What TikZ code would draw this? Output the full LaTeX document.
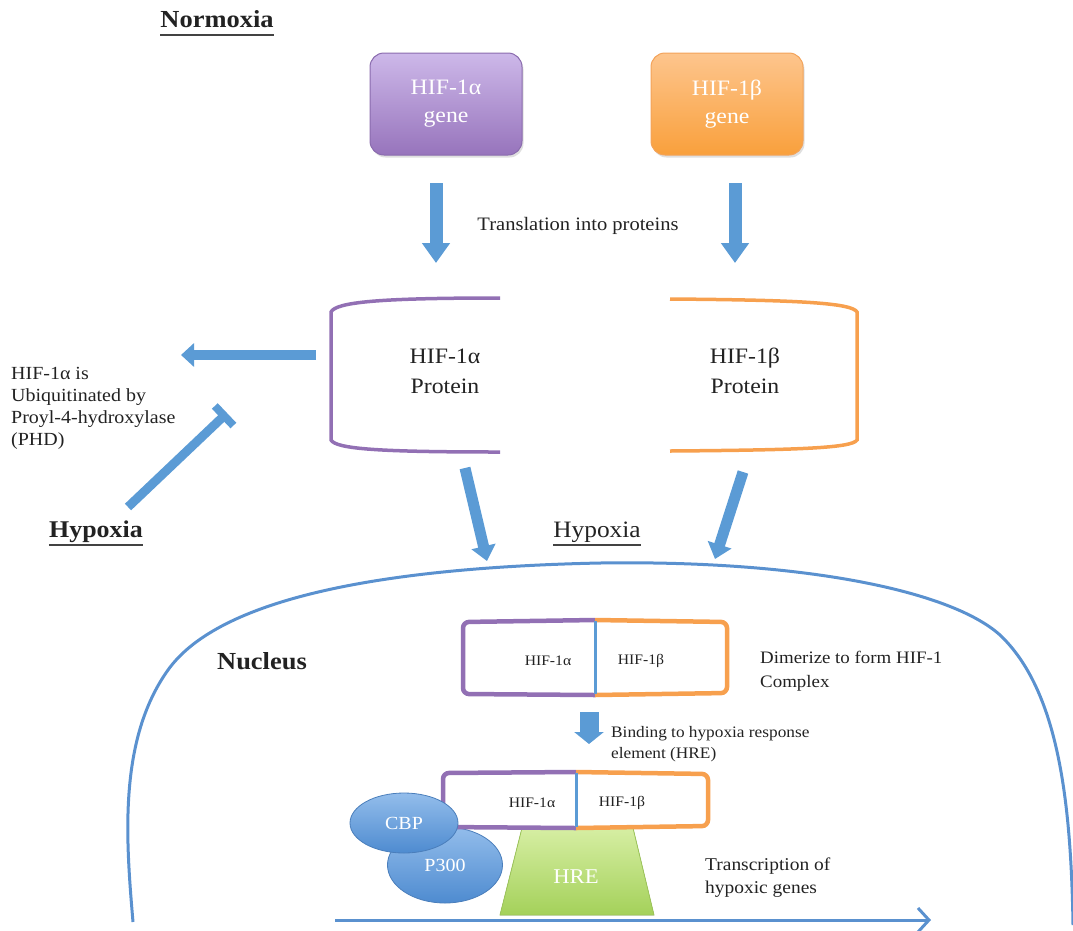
\documentclass[tikz,border=0pt]{standalone}
\usepackage{fontspec}
\setmainfont{Liberation Serif}[FakeStretch=1.08]
\usetikzlibrary{arrows.meta,shadows,calc,shapes.geometric}
\definecolor{txt}{HTML}{222222}
\definecolor{arrblue}{HTML}{5B9BD5}
\definecolor{nucblue}{HTML}{5A91CF}
\definecolor{purp}{HTML}{9270B4}
\definecolor{orng}{HTML}{F7A04E}
\definecolor{purpT}{HTML}{CDB8E9}
\definecolor{purpB}{HTML}{9774BC}
\definecolor{purpD}{HTML}{8A6BAE}
\definecolor{orT}{HTML}{FDC58D}
\definecolor{orB}{HTML}{F9A03C}
\definecolor{orD}{HTML}{F3A35A}
\definecolor{elT}{HTML}{93BDEB}
\definecolor{elB}{HTML}{4E8BD0}
\definecolor{elD}{HTML}{4A7EBB}
\definecolor{grT}{HTML}{D6EEA3}
\definecolor{grB}{HTML}{A4D15A}
\definecolor{grD}{HTML}{9DC65A}
\begin{document}
\begin{tikzpicture}[x=1pt,y=-1pt,
  every node/.style={inner sep=0pt, text=txt},
  bigtxt/.style={font=\fontsize{22}{30}\selectfont, align=center},
  tinytxt/.style={font=\fontsize{14.5}{18}\selectfont},
  genebox/.style={draw, line width=1pt, rounded corners=14pt, minimum width=152pt, minimum height=102pt,
    text=white, font=\fontsize{22}{28}\selectfont, align=center,
    drop shadow={shadow xshift=1.5pt, shadow yshift=-2.5pt, opacity=0.25}},
  ulline/.style={line width=2.4pt, draw=txt!85},
  vblock/.style={line width=13pt, draw=arrblue, -{Triangle[length=20pt,width=27pt]}},
  hblock/.style={line width=10pt, draw=arrblue, -{Triangle[length=13pt,width=23pt]}},
  dblock/.style={line width=11pt, draw=arrblue, -{Triangle[length=15pt,width=24pt]}},
  sblock/.style={line width=19pt, draw=arrblue, -{Triangle[length=12pt,width=29pt]}},
  inhib/.style={line width=9pt, draw=arrblue, -{Rectangle[length=8pt,width=27pt]}},
  purpline/.style={draw=purp, line width=3.5pt},
  orline/.style={draw=orng, line width=3.5pt},
  cplxP/.style={draw=purp, line width=4.5pt, rounded corners=6pt},
  cplxO/.style={draw=orng, line width=4.5pt, rounded corners=6pt},
  divider/.style={draw=arrblue, line width=3pt},
  blob/.style={ellipse, draw=elD, line width=0.8pt, top color=elT, bottom color=elB, text=white},
]
\useasboundingbox (0,0) rectangle (1073,930);

% ---------- titles ----------
\node[font=\bfseries\fontsize{24.5}{28}\selectfont, anchor=base] (norm) at (217,27) {Normoxia};
\draw[ulline] ([yshift=-8pt]norm.base west) -- ([yshift=-8pt]norm.base east);

% ---------- genes ----------
\node[genebox, top color=purpT, bottom color=purpB, draw=purpD] (gA) at (446,104) {HIF-1α\\gene};
\node[genebox, top color=orT, bottom color=orB, draw=orD] (gB) at (727,104) {HIF-1β\\gene};

\coordinate (a1) at (436,183); \coordinate (a2) at (436,263);
\coordinate (b1) at (735,183); \coordinate (b2) at (735,263);
\draw[vblock] (a1) -- (a2);
\draw[vblock] (b1) -- (b2);
\node[font=\fontsize{19}{22}\selectfont] (transl) at (578,226) {Translation into proteins};

% ---------- proteins ----------
\draw[purpline] (500,298) .. controls (380,298) and (336,302) .. (331,312) -- (331,440)
   .. controls (336,449) and (380,452) .. (500,452);
\draw[orline] (670,299) .. controls (800,300) and (852,303) .. (857,312) -- (857,440)
   .. controls (852,448) and (800,450) .. (670,451);
\node[bigtxt] (pA) at (445,371) {HIF-1α\\Protein};
\node[bigtxt] (pB) at (745,371) {HIF-1β\\Protein};

% ---------- left: degradation ----------
\coordinate (l1) at (316,355); \coordinate (l2) at (181,355);
\draw[hblock] (l1) -- (l2);
\node[align=left, anchor=north west, font=\fontsize{18.5}{22}\selectfont] (ubq) at (11,367)
  {HIF-1α is\\Ubiquitinated by\\Proyl-4-hydroxylase\\(PHD)};

\node[font=\bfseries\fontsize{24}{26}\selectfont, anchor=base] (hypL) at (96,537) {Hypoxia};
\draw[ulline] ([yshift=-8pt]hypL.base west) -- ([yshift=-8pt]hypL.base east);
\coordinate (h1) at (128,507); \coordinate (h2) at (227,413);
\draw[inhib] (h1) -- (h2);

% ---------- to nucleus ----------
\coordinate (d1) at (465,468); \coordinate (d2) at (487,561);
\coordinate (e1) at (743,472); \coordinate (e2) at (715,559);
\draw[dblock] (d1) -- (d2);
\draw[dblock] (e1) -- (e2);
\node[font=\fontsize{23.5}{26}\selectfont, anchor=base] (hypM) at (597,537) {Hypoxia};
\draw[ulline, line width=2pt] ([yshift=-8pt]hypM.base west) -- ([yshift=-8pt]hypM.base east);

% ---------- nucleus ----------
\draw[nucblue, line width=3pt] (133,922) .. controls (126,840) and (118,740) .. (168,670)
   .. controls (215,604) and (360,568) .. (600,563)
   .. controls (800,560) and (950,590) .. (1000,635)
   .. controls (1058,690) and (1071,800) .. (1073,925);
\node[font=\bfseries\fontsize{24.5}{28}\selectfont, anchor=base] (nuc) at (262,669) {Nucleus};

% ---------- dimer ----------
\draw[cplxP] (595,620) -- (463,622) -- (463,694) -- (595,695);
\draw[cplxO] (595,620) -- (727,622) -- (727,693) -- (595,695);
\draw[divider] (595,621) -- (595,694);
\node[tinytxt] (c1a) at (548,661) {HIF-1α};
\node[tinytxt] (c1b) at (641,661) {HIF-1β};
\node[align=left, anchor=north west, font=\fontsize{17.5}{24}\selectfont] (dim) at (760,651)
  {Dimerize to form HIF-1\\Complex};

\coordinate (s1) at (589,712); \coordinate (s2) at (589,744);
\draw[sblock] (s1) -- (s2);
\node[align=left, anchor=north west, font=\fontsize{16}{21}\selectfont] (bind) at (611,726)
  {Binding to hypoxia response\\element (HRE)};

% ---------- DNA binding ----------
\node[blob, minimum width=115pt, minimum height=76pt, font=\fontsize{18.5}{22}\selectfont] (p300) at (445,865) {P300};
\fill[top color=grT, bottom color=grB, draw=grD, line width=0.8pt] (522,828) -- (633,828) -- (654,915) -- (500,915) -- cycle;
\node[text=white, font=\fontsize{21}{24}\selectfont] (hre) at (576,877) {HRE};
\draw[cplxP] (576,772) -- (443,773) -- (443,827) -- (576,828);
\draw[cplxO] (576,772) -- (708,774) -- (708,826) -- (576,828);
\draw[divider] (576,773) -- (576,827);
\node[tinytxt] (c2a) at (532,803) {HIF-1α};
\node[tinytxt] (c2b) at (622,803) {HIF-1β};
\node[blob, minimum width=108pt, minimum height=60pt, font=\fontsize{18.5}{22}\selectfont] (cbp) at (404,823) {CBP};

\node[align=left, anchor=north west, font=\fontsize{18}{23}\selectfont] (trans) at (705,858)
  {Transcription of\\hypoxic genes};

\coordinate (t1) at (335,920); \coordinate (t2) at (931,920);
\draw[nucblue, line width=3pt, -{Straight Barb[length=11pt,width=24pt]}] (t1) -- (t2);
\end{tikzpicture}
\end{document}
